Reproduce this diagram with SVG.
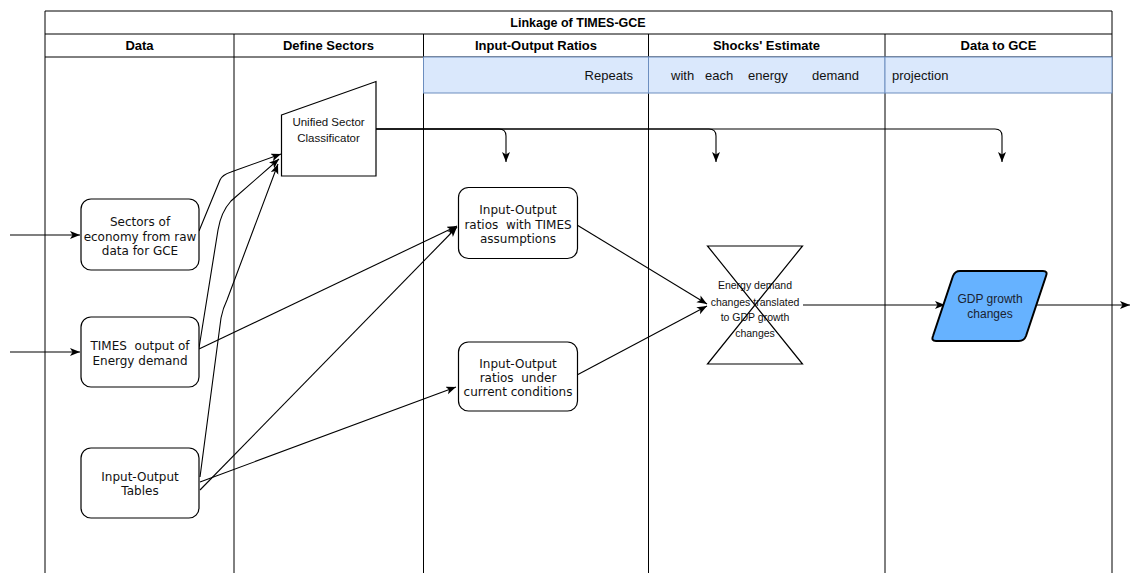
<svg xmlns="http://www.w3.org/2000/svg" width="1134" height="573" viewBox="0 0 1134 573">
  <style>
    .lane { stroke: #000; stroke-width: 1; fill: none; }
    .cell { fill: #dae8fc; stroke: #6c8ebf; stroke-width: 1; }
    .hdr { font-family: "Liberation Sans", Arial, sans-serif; font-weight: bold; font-size: 13px; fill: #000; text-anchor: middle; }
    .ttl { font-family: "Liberation Sans", Arial, sans-serif; font-weight: bold; font-size: 12.5px; fill: #000; text-anchor: middle; }
    .band { font-family: "Liberation Sans", Arial, sans-serif; font-size: 13px; fill: #111; }
    .box { fill: #fff; stroke: #000; stroke-width: 1.2; }
    .vt { font-family: "DejaVu Sans", Verdana, sans-serif; font-size: 12px; fill: #111; text-anchor: middle; white-space: pre; }
    .st { font-family: "Liberation Sans", Arial, sans-serif; font-size: 10.5px; fill: #111; text-anchor: middle; }
    .st-md { font-size: 11.5px; }
    .st-lg { font-size: 12px; fill: #1a2230; }
    .edge { fill: none; stroke: #000; stroke-width: 1.1; marker-end: url(#arr); }
  </style>
  <defs>
    <marker id="arr" markerUnits="userSpaceOnUse" markerWidth="12" markerHeight="10" refX="10" refY="4" orient="auto">
      <path d="M0,0 L10,4 L0,8 L2.5,4 Z" fill="#000"/>
    </marker>
  </defs>

  <rect width="1134" height="573" fill="#fff"/>

  <!-- swimlane pool -->
  <g id="pool">
    <path class="lane" d="M45,573 V11 H1112 V573"/>
    <path class="lane" d="M45,34 H1112 M45,57 H1112"/>
    <path class="lane" d="M234,34 V573 M423.5,34 V573 M648.5,34 V573 M885,34 V573"/>
    <text class="ttl" x="578" y="27">Linkage of TIMES-GCE</text>
    <text class="hdr" x="139.5" y="50">Data</text>
    <text class="hdr" x="328.5" y="50">Define Sectors</text>
    <text class="hdr" x="536" y="50">Input-Output Ratios</text>
    <text class="hdr" x="766.5" y="50">Shocks' Estimate</text>
    <text class="hdr" x="998.5" y="50">Data to GCE</text>
  </g>

  <!-- repeat band -->
  <g id="repeat-band">
    <rect class="cell" x="423.5" y="57" width="225" height="36"/>
    <rect class="cell" x="648.5" y="57" width="236.5" height="36"/>
    <rect class="cell" x="885" y="57" width="227" height="36"/>
    <text class="band" x="633" y="80" text-anchor="end">Repeats</text>
    <text class="band" x="671" y="80">with</text>
    <text class="band" x="705" y="80">each</text>
    <text class="band" x="748" y="80">energy</text>
    <text class="band" x="812" y="80">demand</text>
    <text class="band" x="892" y="80">projection</text>
  </g>

  <!-- connectors -->
  <g id="connectors">
    <path class="edge" d="M10,235 H80"/>
    <path class="edge" d="M10,352 H80"/>
    <path class="edge" d="M199,231 L220,180 Q222,175 231,172 L281,154"/>
    <path class="edge" d="M199,348 L218,230 Q221,212 231,201 L279,159"/>
    <path class="edge" d="M200,477 L221,318 Q223,308 227,300 L278,164"/>
    <path class="edge" d="M199,349 L457,226"/>
    <path class="edge" d="M200,490 L457,227"/>
    <path class="edge" d="M200,482 L456,387"/>
    <path class="edge" d="M577,225 L707,304"/>
    <path class="edge" d="M577,375 L707,306"/>
    <path class="edge" d="M803,305 H945"/>
    <path class="edge" d="M1036,305 H1130"/>
    <path class="edge" d="M376,129 H499 Q506,129 506,136 V162"/>
    <path class="edge" d="M376,129 H709 Q716,129 716,136 V162"/>
    <path class="edge" d="M376,129 H995 Q1002,129 1002,136 V162"/>
  </g>

  <!-- nodes -->
  <g id="sectors-raw">
    <rect class="box" x="81" y="199" width="118" height="71" rx="10"/>
    <text class="vt" x="140" y="226">Sectors of</text>
    <text class="vt" x="140" y="240.5">economy from raw</text>
    <text class="vt" x="140" y="255">data for GCE</text>
  </g>
  <g id="times-output">
    <rect class="box" x="81" y="317" width="118" height="70" rx="10"/>
    <text class="vt" x="140" y="350">TIMES  output of</text>
    <text class="vt" x="140" y="365">Energy demand</text>
  </g>
  <g id="io-tables">
    <rect class="box" x="81" y="448" width="118" height="70" rx="10"/>
    <text class="vt" x="140" y="481">Input-Output</text>
    <text class="vt" x="140" y="495">Tables</text>
  </g>
  <g id="unified-classificator">
    <path class="box" d="M281.5,115 L376,81.5 V176 H281.5 Z"/>
    <text class="st st-md" x="328.5" y="126">Unified Sector</text>
    <text class="st st-md" x="328.5" y="142">Classificator</text>
  </g>
  <g id="io-ratios-times">
    <rect class="box" x="458.5" y="187.5" width="119" height="71" rx="10"/>
    <text class="vt" x="518" y="214">Input-Output</text>
    <text class="vt" x="518" y="228.5">ratios  with TIMES</text>
    <text class="vt" x="518" y="243">assumptions</text>
  </g>
  <g id="io-ratios-current">
    <rect class="box" x="458.5" y="342" width="119" height="69" rx="10"/>
    <text class="vt" x="518" y="367.5">Input-Output</text>
    <text class="vt" x="518" y="382">ratios  under</text>
    <text class="vt" x="518" y="396">current conditions</text>
  </g>
  <g id="shock-estimate">
    <path class="box" d="M707.5,246 H802.5 L707.5,364 H802.5 Z" fill="none"/>
    <text class="st" x="755" y="289">Energy demand</text>
    <text class="st" x="755" y="305.5">changes translated</text>
    <text class="st" x="755" y="321">to GDP growth</text>
    <text class="st" x="755" y="337">changes</text>
  </g>
  <g id="gdp-growth">
    <path d="M960,271 H1043 Q1048,271 1046,276 L1026,336 Q1024,341 1019,341 H936 Q931,341 933,336 L953,276 Q955,271 960,271 Z" fill="#66b2ff" stroke="#000" stroke-width="2"/>
    <text class="st st-lg" x="990" y="303">GDP growth</text>
    <text class="st st-lg" x="990" y="318">changes</text>
  </g>
</svg>
